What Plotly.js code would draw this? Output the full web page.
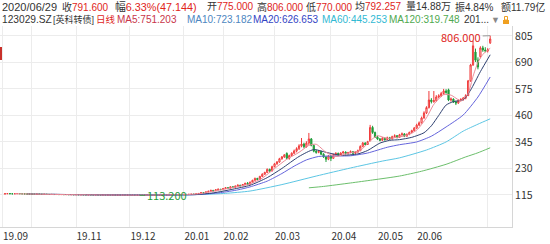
<!DOCTYPE html>
<html><head><meta charset="utf-8">
<script src="https://cdn.plot.ly/plotly-3.0.1.min.js"></script>
<style>html,body{margin:0;padding:0;background:#fff;}#chart{width:550px;height:244px;}</style>
</head><body><div id="chart"></div>
<script>
// ---- data ----
const opens = [
119.0,120.5,121.0,120.2,119.8,120.6,121.2,120.4,119.9,119.5,
118.8,118.6,118.2,117.9,118.4,118.0,117.6,117.9,117.3,117.0,
117.4,116.8,117.1,116.6,116.9,116.4,116.8,116.2,116.5,116.0,
116.3,115.8,116.1,115.7,115.4,115.9,115.5,115.2,115.6,115.1,
114.9,115.3,114.8,115.0,114.6,114.9,114.4,114.7,114.3,114.6,
114.2,114.5,114.0,114.3,113.9,114.2,113.6,114.0,114.3,114.7,
114.4,114.9,115.2,114.8,115.3,115.6,115.2,115.8,116.1,115.7,
116.3,116.8,116.4,117.0,117.5,117.1,117.8,118.3,
118.0,119.8,121.5,125.0,122.5,128.5,131.0,135.0,133.0,137.5,
140.0,138.0,142.5,146.5,144.0,150.5,148.0,153.5,157.5,155.0,
160.5,165.5,161.5,170.5,178.5,187.0,182.0,195.5,205.0,212.5,
226.0,219.0,238.0,250.0,258.0,272.0,280.0,295.0,274.0,286.0,
296.0,306.0,316.0,328.0,336.0,324.0,340.0,358.0,330.0,305.0,
300.0,304.0,292.0,280.0,270.0,284.0,274.0,290.0,296.0,288.0,
297.0,301.0,294.0,299.0,303.0,296.0,301.0,307.0,326.0,340.0,
334.0,350.0,408.0,386.0,366.0,358.0,352.0,361.0,355.0,363.0,
358.0,368.0,372.0,365.0,376.0,380.0,370.0,378.0,386.0,394.0,
405.0,418.0,428.0,449.0,471.0,494.0,527.0,520.0,524.0,540.0,
545.0,555.0,566.0,571.0,527.0,531.0,519.0,514.0,525.0,529.0,
535.0,546.0,610.0,679.0,735.0,700.0,715.0,753.0,744.0,740.0,
775.0];
const highs = [
121.5,121.8,121.4,120.7,121.0,121.9,121.5,120.8,120.3,119.9,
119.2,119.0,118.6,118.8,118.7,118.3,118.3,118.1,117.6,117.8,
117.6,117.5,117.3,117.3,117.1,117.2,117.0,116.9,116.8,116.7,
116.5,116.5,116.3,116.0,116.3,116.1,115.8,116.0,115.8,115.4,
115.7,115.5,115.4,115.2,115.3,115.1,115.0,114.9,114.9,114.8,
114.8,114.7,114.6,114.5,114.5,114.4,114.3,114.6,115.0,114.9,
115.2,115.6,115.4,115.6,115.9,115.8,116.1,116.5,116.3,116.6,
117.1,117.0,117.3,117.9,117.7,118.2,118.7,118.5,
120.5,122.0,126.5,126.0,129.5,133.0,137.0,136.0,139.0,142.0,
141.0,144.0,149.0,147.5,152.0,151.5,155.5,160.0,158.5,162.5,
168.0,171.0,173.0,181.0,190.0,189.0,198.0,209.0,216.0,230.0,
229.0,242.0,254.0,262.0,276.0,284.0,292.0,300.0,290.0,300.0,
312.0,322.0,335.0,362.0,342.0,348.0,384.0,362.0,334.0,312.0,
310.0,306.0,296.0,284.0,288.0,287.0,294.0,300.0,298.0,300.0,
306.0,304.0,302.0,308.0,305.0,304.0,312.0,330.0,345.0,344.0,
350.0,419.0,415.0,390.0,372.0,362.0,366.0,365.0,368.0,367.0,
372.0,378.0,375.0,380.0,386.0,383.0,382.0,390.0,398.0,410.0,
424.0,434.0,455.0,478.0,500.0,566.0,535.0,566.0,548.0,552.0,
562.0,575.0,574.0,576.0,538.0,534.0,524.0,530.0,535.0,540.0,
552.0,614.0,684.0,783.0,750.0,712.0,760.0,762.0,756.0,752.0,
806.0];
const lows = [
118.6,119.9,119.8,119.3,119.5,120.2,120.0,119.4,119.0,118.3,
118.1,117.8,117.5,117.6,117.6,117.2,117.3,117.0,116.6,116.7,
116.4,116.5,116.2,116.3,116.0,116.1,115.8,115.9,115.6,115.7,
115.4,115.5,115.3,115.0,115.1,115.1,114.8,114.9,114.7,114.5,
114.6,114.4,114.5,114.2,114.3,114.0,114.1,113.9,114.0,113.8,
113.9,113.7,113.7,113.6,113.6,113.2,113.4,113.7,114.0,114.0,
114.1,114.6,114.5,114.5,115.0,114.9,114.9,115.5,115.4,115.4,
116.0,116.1,116.1,116.7,116.8,116.8,117.5,117.6,
117.8,119.0,121.0,121.5,122.0,127.5,130.0,131.5,132.5,136.0,
136.5,137.5,141.5,142.0,143.5,146.5,147.5,152.5,153.0,154.5,
159.5,160.0,161.0,169.5,177.0,179.5,181.0,193.0,202.0,211.0,
216.0,218.0,235.0,246.0,255.0,268.0,276.0,270.0,268.0,282.0,
292.0,300.0,310.0,322.0,318.0,320.0,332.0,326.0,300.0,294.0,
296.0,288.0,276.0,258.0,266.0,262.0,272.0,286.0,284.0,286.0,
294.0,290.0,291.0,296.0,292.0,294.0,299.0,305.0,322.0,330.0,
332.0,348.0,380.0,362.0,354.0,348.0,350.0,350.0,353.0,354.0,
356.0,364.0,360.0,363.0,372.0,366.0,368.0,374.0,382.0,390.0,
402.0,414.0,425.0,446.0,466.0,490.0,512.0,515.0,520.0,534.0,
540.0,550.0,554.0,522.0,520.0,514.0,505.0,510.0,520.0,524.0,
530.0,544.0,606.0,675.0,692.0,660.0,708.0,736.0,734.0,733.0,
770.0];
const closes = [
120.5,121.0,120.2,119.8,120.6,121.2,120.4,119.9,119.5,118.8,
118.6,118.2,117.9,118.4,118.0,117.6,117.9,117.3,117.0,117.4,
116.8,117.1,116.6,116.9,116.4,116.8,116.2,116.5,116.0,116.3,
115.8,116.1,115.7,115.4,115.9,115.5,115.2,115.6,115.1,114.9,
115.3,114.8,115.0,114.6,114.9,114.4,114.7,114.3,114.6,114.2,
114.5,114.0,114.3,113.9,114.2,113.6,114.0,114.3,114.7,114.4,
114.9,115.2,114.8,115.3,115.6,115.2,115.8,116.1,115.7,116.3,
116.8,116.4,117.0,117.5,117.1,117.8,118.3,118.0,
119.8,121.5,125.0,122.5,128.5,131.0,135.0,133.0,137.5,140.0,
138.0,142.5,146.5,144.0,150.5,148.0,153.5,157.5,155.0,160.5,
165.5,161.5,170.5,178.5,187.0,182.0,195.5,205.0,212.5,226.0,
219.0,238.0,250.0,258.0,272.0,280.0,289.0,274.0,286.0,296.0,
306.0,316.0,328.0,336.0,324.0,340.0,358.0,330.0,305.0,300.0,
304.0,292.0,280.0,270.0,284.0,274.0,290.0,296.0,288.0,297.0,
301.0,294.0,299.0,303.0,296.0,301.0,307.0,326.0,340.0,334.0,
346.0,408.0,386.0,366.0,358.0,352.0,361.0,355.0,363.0,358.0,
368.0,372.0,365.0,376.0,380.0,370.0,378.0,386.0,394.0,405.0,
418.0,428.0,449.0,471.0,494.0,527.0,520.0,524.0,540.0,545.0,
555.0,566.0,560.0,527.0,531.0,519.0,514.0,525.0,529.0,535.0,
546.0,610.0,679.0,762.0,700.0,670.0,753.0,744.0,740.0,744.456,
791.6];

// moving-average lines at sample trading days
const ma5X  = [4,15,30,45,55,65,75,80,85,90,95,100,105,110,115,120,124,127,131,135,140,145,149,152,156,160,164,168,172,175,179,182,186,189,191,193,195,198];
const ma5Y  = [120.3,118.0,116.0,114.7,114.0,115.2,117.2,121,131,141,151,163,188,230,270,300,330,335,300,282,296,308,350,372,360,365,374,396,450,508,550,548,524,555,630,690,725,751.2];
const ma10X = [9,25,40,55,70,78,85,93,100,107,113,120,126,131,137,144,148,153,157,161,166,171,174,177,180,183,187,190,194,198];
const ma10Y = [119.6,117,115.3,114.2,115.5,116.8,124,140,157,190,230,282,312,300,287,293,308,340,352,355,365,385,415,460,505,520,528,570,650,723.2];
const ma20X = [19,35,50,65,78,88,95,100,107,113,118,123,128,134,141,148,156,161,168,174,180,187,193,198];
const ma20Y = [117.5,116,114.8,114.6,116.5,125,137,150,175,208,240,267,282,284,285,297,322,333,345,370,410,462,540,626.7];
const ma60X = [59,70,80,90,100,113,127,141,154,161,172,180,187,193,198];
const ma60Y = [116.5,115.8,117,122,132,160,197,232,262,276,310,345,392,422,445.3];
const ma120X = [124,130,141,150,161,170,180,188,193,198];
const ma120Y = [146,152,167,180,197,218,248,280,298,319.7];

// axis ticks
const xTickPos = [-1, 11, 29, 51, 73, 89, 110, 133, 152, 168, 197];
const xTickText = ['19.09', '', '19.11', '19.12', '20.01', '20.02', '20.03', '20.04', '20.05', '20.06', ''];
const yTicks = [115, 230, 345, 460, 575, 690, 805];

const maxHigh = 806.0, minLow = 113.2;

// ---- chart ----
const dayIdx = closes.map((_, i) => i);
const FONT = '"Noto Sans CJK SC", "Noto Sans", sans-serif';
const HFONT = '"Liberation Sans", "Noto Sans CJK SC", sans-serif';

function maTrace(xs, ys, color) {
  return {type: 'scatter', mode: 'lines', x: xs, y: ys,
    line: {color: color, width: 1, shape: 'spline', smoothing: 0.6},
    hoverinfo: 'skip', showlegend: false};
}

const traces = [
  {type: 'candlestick', x: dayIdx, open: opens, high: highs, low: lows, close: closes,
   increasing: {line: {color: '#f03a3a', width: 1}, fillcolor: '#ffffff'},
   decreasing: {line: {color: '#1f9d3a', width: 1}, fillcolor: '#1f9d3a'},
   whiskerwidth: 0, hoverinfo: 'skip', showlegend: false},
  maTrace(ma120X, ma120Y, '#6cbf6c'),
  maTrace(ma60X, ma60Y, '#5cc6e4'),
  maTrace(ma20X, ma20Y, '#6464dc'),
  maTrace(ma10X, ma10Y, '#2e4070'),
  maTrace(ma5X, ma5Y, '#ec8c98')
];

const PW = 512, T = 26, PH = 201;
const px = v => v / PW;
const py = v => 1 - (v - T) / PH;
const RED = '#e0251b';
const sp = (s, c) => '<span style="color:' + c + '">' + s + '</span>';

// [left px, centre-y px, text, font size]
const head = [
  [1, 6.5, '2020/06/29', 11],
  [61, 6.5, '收' + sp('791.600', RED), 10],
  [114, 6.5, '幅' + sp('6.33%(47.144)', RED), 10.8],
  [206, 6.5, '开' + sp('775.000', RED), 10],
  [256, 6.5, '高' + sp('806.000', RED), 10],
  [305, 6.5, '低' + sp('770.000', RED), 10],
  [354, 6.5, '均' + sp('792.257', RED), 10],
  [405, 6.5, '量14.88万', 10],
  [454, 6.5, '振4.84%', 10],
  [500, 6.5, '额11.79亿', 10],
  [1, 19.5, '123029.SZ', 10.2],
  [52, 19.5, '[英科转债]', 9],
  [95, 19.5, sp('日线', RED), 9.5],
  [116, 19.5, sp('MA5:751.203', '#c8354a'), 10],
  [186, 19.5, sp('MA10:723.182', '#4d86bf'), 10],
  [252, 19.5, sp('MA20:626.653', '#3344c4'), 10],
  [321, 19.5, sp('MA60:445.253', '#31b9d3'), 10],
  [388, 19.5, sp('MA120:319.748', '#4fa94f'), 10],
  [463, 19.5, '201...', 10],
  [490, 19.5, sp('▼', '#888888'), 9]
];

const annotations = head.map(h => ({
  xref: 'paper', yref: 'paper', x: px(h[0]), y: py(h[1]), xanchor: 'left', yanchor: 'middle',
  text: h[2], showarrow: false, borderpad: 0,
  font: {family: HFONT, size: h[3], color: '#333333'}
}));

annotations.push({
  x: dayIdx[dayIdx.length - 1], y: maxHigh, xref: 'x', yref: 'y',
  text: '806.000', showarrow: true, arrowhead: 0, arrowwidth: 1, arrowcolor: '#999999',
  ax: -29, ay: 1, font: {family: FONT, size: 11, color: '#e0251b'}
});
annotations.push({
  x: lows.indexOf(minLow), y: minLow, xref: 'x', yref: 'y',
  text: '113.200', showarrow: true, arrowhead: 0, arrowwidth: 1, arrowcolor: '#4a9a55',
  ax: 27, ay: 0, font: {family: FONT, size: 11, color: '#1f9d3a'}
});

const shapes = [
  {type: 'rect', xref: 'paper', yref: 'paper', x0: 0, x1: px(2), y0: py(60), y1: py(47),
   fillcolor: '#c8302a', line: {width: 0}},
  {type: 'rect', xref: 'paper', yref: 'paper', x0: px(503), x1: px(509), y0: py(24), y1: py(20),
   fillcolor: '#f0a020', line: {width: 0}},
  {type: 'rect', xref: 'paper', yref: 'paper', x0: px(504.5), x1: px(507.5), y0: py(20), y1: py(16.5),
   fillcolor: 'rgba(0,0,0,0)', line: {width: 1, color: '#f0a020'}}
];

const layout = {
  width: 550, height: 244,
  margin: {l: 0, r: 38, t: T, b: 17, pad: 0},
  paper_bgcolor: '#ffffff', plot_bgcolor: '#ffffff',
  showlegend: false,
  font: {family: FONT, color: '#333333'},
  xaxis: {
    type: 'linear', range: [-2.04, 206.9], rangeslider: {visible: false},
    tickvals: xTickPos, ticktext: xTickText, ticklabelposition: 'outside right',
    showgrid: true, gridcolor: '#ececec', gridwidth: 1, zeroline: false,
    showline: true, linecolor: '#d6d6d6', linewidth: 1, ticks: '',
    tickfont: {family: FONT, size: 10, color: '#333333'}, fixedrange: true
  },
  yaxis: {
    side: 'right', range: [-24, 848], tickvals: yTicks,
    showgrid: true, gridcolor: '#ececec', gridwidth: 1, zeroline: false,
    showline: true, linecolor: '#d6d6d6', linewidth: 1, ticks: '',
    tickfont: {family: FONT, size: 10.5, color: '#333333'}, fixedrange: true
  },
  annotations: annotations,
  shapes: shapes
};

Plotly.newPlot('chart', traces, layout, {displayModeBar: false, staticPlot: true});
</script>
</body></html>
